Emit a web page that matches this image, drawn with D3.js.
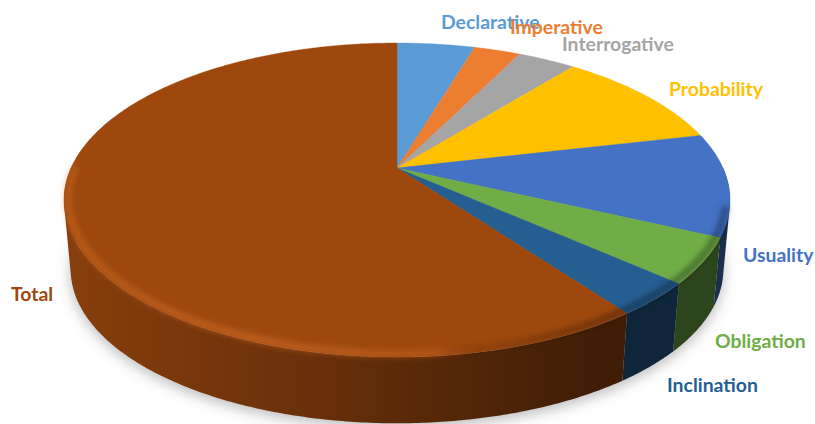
<!DOCTYPE html>
<html>
<head>
<meta charset="utf-8">
<script src="https://cdn.jsdelivr.net/npm/d3@7"></script>
<style>
html,body{margin:0;padding:0;background:#fff}
svg{display:block}
text{font-family:Lato,"Open Sans",sans-serif;font-weight:700;font-size:19.4px}
</style>
</head>
<body>
<svg id="chart" width="815" height="424"></svg>
<script>
// Sentence-type shares, clockwise from twelve o'clock
const categories = ["Declarative","Imperative","Interrogative","Probability","Usuality","Obligation","Inclination","Total"];
const shares = [4.6,2.75,3.4,10.6,10.6,4.6,3.4,60];
const colors = ["#5b9bd5","#ed7d31","#a5a5a5","#ffc000","#4472c4","#70ad47","#255e91","#9e480e"];
// Text placement for each category: left edge and vertical middle
const labelX = [441,510,562,669,743,715,667,11];
const labelY = [21,26,43,88,254,340,384,293];

const svg = d3.select("#chart");
const defs = svg.append("defs");

// Tilted-disc camera: the disc centre sits above the middle of its ellipse
const apex = {x:397, y:168};
const k = 0.204, scaleY = 150.5, scaleX = 333*Math.sqrt(1-k*k);
const depth = 70, shrink = 0.98;

function topPoint(a){
  const u = Math.sin(a), v = -Math.cos(a), w = 1-k*v;
  return [apex.x + scaleX*u/w, apex.y + scaleY*v/w];
}
function basePoint(a){
  const p = topPoint(a);
  return [apex.x + shrink*(p[0]-apex.x), apex.y + depth + shrink*(p[1]-apex.y)];
}
function arcAngles(a0,a1){
  const n = Math.max(2, Math.ceil((a1-a0)/0.01));
  return d3.range(n+1).map(i => a0+(a1-a0)*i/n);
}

const line = d3.line();
const pie = d3.pie().sort(null).value((d,i)=>shares[i]);
const slices = pie(categories);

const shade = (c,f)=>{const r=d3.rgb(c);return d3.rgb(r.r*f,r.g*f,r.b*f).formatHex();};

// Blur filters for the ground shadow and the rim bevel
defs.append("filter").attr("id","soft").attr("x","-10%").attr("y","-10%").attr("width","120%").attr("height","120%")
  .append("feGaussianBlur").attr("stdDeviation",7);
defs.append("filter").attr("id","bevel").attr("x","-5%").attr("y","-5%").attr("width","110%").attr("height","110%")
  .append("feGaussianBlur").attr("stdDeviation",3);

// Ground shadow under the disc
const full = arcAngles(0,2*Math.PI);
svg.append("path")
  .attr("d",line(full.map(basePoint))+"Z")
  .attr("transform","translate(0,4)")
  .attr("fill","#8c8c8c").attr("opacity",0.6).attr("filter","url(#soft)");

// Side wall: a horizontal shading ramp per slice
slices.forEach((s,i)=>{
  const g = defs.append("linearGradient").attr("id","side"+i)
    .attr("gradientUnits","userSpaceOnUse").attr("x1",64).attr("x2",731).attr("y1",0).attr("y2",0);
  [[0,.86],[.35,.68],[.8,.40],[1,.40]].forEach(([o,f])=>
    g.append("stop").attr("offset",o).attr("stop-color",shade(colors[i],f)));
});
// Each wall is one path of short quads, wound the same way, so the silhouette
// past the widest point of the disc stays filled without seams
const lo = Math.PI*0.5, hi = Math.PI*1.5;
slices.forEach((s,i)=>{
  const a0 = Math.max(s.startAngle,lo), a1 = Math.min(s.endAngle,hi);
  if(a1<=a0) return;
  const d = d3.pairs(arcAngles(a0,a1)).map(([p,q])=>{
    const quad = [topPoint(p),topPoint(q),basePoint(q),basePoint(p)];
    if(d3.polygonArea(quad)<0) quad.reverse();
    return line(quad)+"Z";
  }).join("");
  svg.append("path").attr("d",d).attr("fill",`url(#side${i})`);
});

// Top face slices
const facePath = s => line([[apex.x,apex.y]].concat(arcAngles(s.startAngle,s.endAngle).map(topPoint)))+"Z";
svg.append("g").selectAll("path").data(slices).join("path")
  .attr("d",facePath)
  .attr("fill",(d,i)=>colors[i])
  .attr("stroke",(d,i)=>colors[i]).attr("stroke-width",0.4);

// Rim bevel on the front of the disc: warm light on the left, dark on the right
const rimRamp = defs.append("linearGradient").attr("id","rim")
  .attr("gradientUnits","userSpaceOnUse").attr("x1",64).attr("x2",731).attr("y1",0).attr("y2",0);
[[0,"#d9722c",.5],[.3,"#d9722c",.65],[.56,"#d9722c",.4],[.63,"#000000",.12],[.85,"#000000",.42],[1,"#000000",.42]]
  .forEach(([o,c,a])=>rimRamp.append("stop").attr("offset",o).attr("stop-color",c).attr("stop-opacity",a));
const rimAngles = arcAngles(Math.PI*0.58,Math.PI*1.5);
// The bevel sits just inside the edge and melts into the wall below it
const insetPoint = a => {
  const p = topPoint(a);
  return [apex.x + 0.988*(p[0]-apex.x), apex.y - 1 + 0.988*(p[1]-apex.y)];
};
svg.append("path")
  .attr("d",line(rimAngles.map(insetPoint)))
  .attr("fill","none").attr("stroke","url(#rim)").attr("stroke-width",6)
  .attr("filter","url(#bevel)");

// Category labels, drawn in slice order so later ones sit on top
svg.append("g").selectAll("text").data(categories).join("text")
  .attr("x",(d,i)=>labelX[i]).attr("y",(d,i)=>labelY[i])
  .attr("dominant-baseline","central")
  .attr("fill",(d,i)=>colors[i])
  .text(d=>d);
</script>
</body>
</html>
